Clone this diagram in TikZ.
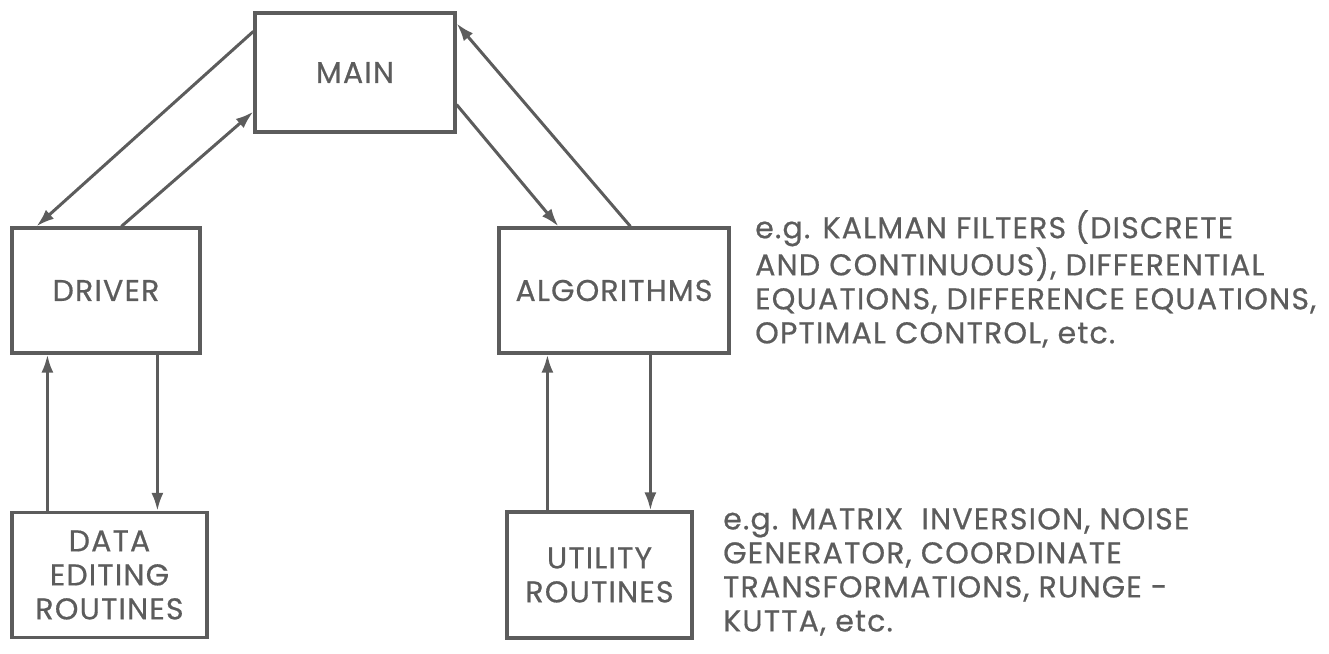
\documentclass[tikz,border=0pt]{standalone}
\usepackage{fontspec}
\setmainfont{Poppins}[FakeBold=0.6, LetterSpace=4]
\usepackage{xcolor}
\usetikzlibrary{arrows.meta,positioning}
\definecolor{ink}{HTML}{5C5C5C}
\begin{document}
\begin{tikzpicture}[x=1pt, y=-1pt,
  box/.style={draw=ink, line width=3.2pt, text=ink, align=center, font=\fontsize{30}{34}\selectfont, inner sep=0pt},
  note/.style={text=ink, align=left, anchor=north west, inner sep=0pt, font=\fontsize{30}{34}\selectfont},
  arr/.style={-{Latex[length=18pt, width=12pt]}, line width=3pt, draw=ink}]
\useasboundingbox (0,0) rectangle (1329,653);
\node[box, minimum width=200pt, minimum height=119pt] (main) at (355,72.5)  {MAIN};
\node[box, minimum width=188pt, minimum height=125pt] (drv)  at (106,290.5) {DRIVER};
\node[box, minimum width=230pt, minimum height=125pt] (alg)  at (614,290.5) {ALGORITHMS};
\node[box, minimum width=195pt, minimum height=125pt] (edit) at (109.5,575) {DATA\\EDITING\\ROUTINES};
\node[box, minimum width=185pt, minimum height=126pt] (util) at (599.5,575) {UTILITY\\ROUTINES};
\draw[arr] ([yshift=-20pt]main.north west) -- ([xshift=26pt]drv.north west);
\draw[arr] ([xshift=111pt]drv.north west) -- ([yshift=22pt]main.south west);
\draw[arr] ([yshift=29pt]main.south east) -- ([xshift=61pt]alg.north west);
\draw[arr] ([xshift=133pt]alg.north west) -- ([yshift=-12pt]main.north east);
\draw[arr] ([xshift=37pt]edit.north west) -- ([xshift=37pt]drv.south west);
\draw[arr] ([xshift=147pt]drv.south west) -- ([xshift=147pt]edit.north west);
\draw[arr] ([xshift=42pt]util.north west) -- ([xshift=50pt]alg.south west);
\draw[arr] ([xshift=153pt]alg.south west) -- ([xshift=145pt]util.north west);
\node[note] (algnote) at (755,210) {e.g. KALMAN FILTERS (DISCRETE\\AND CONTINUOUS), DIFFERENTIAL\\EQUATIONS, DIFFERENCE EQUATIONS,\\OPTIMAL CONTROL, etc.};
\node[note] (utilnote) at (723,508) {e.g. MATRIX\ \ INVERSION, NOISE\\GENERATOR, COORDINATE\\TRANSFORMATIONS, RUNGE -\\KUTTA, etc.};
\end{tikzpicture}
\end{document}
